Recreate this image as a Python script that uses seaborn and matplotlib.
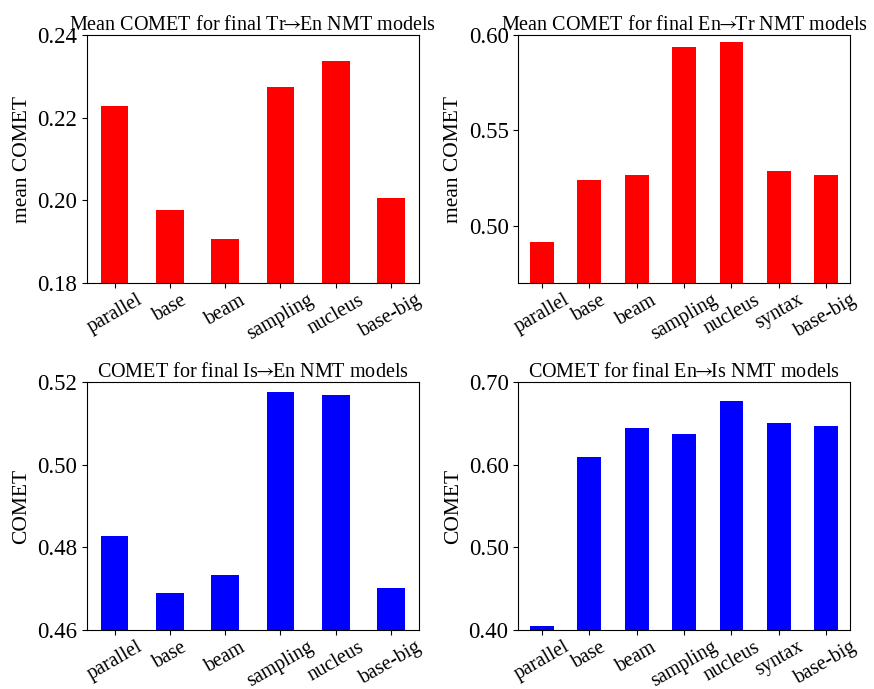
import pandas as pd
import seaborn as sns
import matplotlib
matplotlib.use("Agg")
import matplotlib.pyplot as plt
from matplotlib.ticker import FormatStrFormatter, MultipleLocator

models6 = ["parallel", "base", "beam", "sampling", "nucleus", "base-big"]
models7 = ["parallel", "base", "beam", "sampling", "nucleus", "syntax", "base-big"]

tr_en = [0.2228, 0.1977, 0.1907, 0.2274, 0.2337, 0.2006]
en_tr = [0.4914, 0.5240, 0.5266, 0.5937, 0.5963, 0.5287, 0.5266]
is_en = [0.4827, 0.4690, 0.4733, 0.5176, 0.5169, 0.4702]
en_is = [0.4048, 0.6093, 0.6444, 0.6371, 0.6770, 0.6504, 0.6468]

plt.rcParams["font.family"] = ["Liberation Serif", "DejaVu Serif"]
plt.rcParams["mathtext.fontset"] = "stix"

arrow = r"$\!\!\rightarrow\!\!$"

fig, axes = plt.subplots(2, 2, figsize=(8.74, 6.89), dpi=100)
plt.subplots_adjust(left=0.0995, right=0.9725, top=0.949, bottom=0.0856,
                    wspace=0.30, hspace=0.40)

panels = [
    (axes[0, 0], models6, tr_en, "red", "Mean COMET for final Tr" + arrow + "En NMT models",
     "mean COMET", (0.18, 0.24), 0.02),
    (axes[0, 1], models7, en_tr, "red", "Mean COMET for final En" + arrow + "Tr NMT models",
     "mean COMET", (0.47, 0.60), 0.05),
    (axes[1, 0], models6, is_en, "blue", "COMET for final Is" + arrow + "En NMT models",
     "COMET", (0.46, 0.52), 0.02),
    (axes[1, 1], models7, en_is, "blue", "COMET for final En" + arrow + "Is NMT models",
     "COMET", (0.40, 0.70), 0.10),
]

for ax, models, vals, col, title, ylab, ylim, step in panels:
    df = pd.DataFrame({"model": models, "score": vals})
    sns.barplot(data=df, x="model", y="score", color=col, saturation=1,
                width=0.5, ax=ax, linewidth=0)
    ax.set_ylim(*ylim)
    ax.set_xlim(-0.5, len(models) - 0.5)
    ax.yaxis.set_major_locator(MultipleLocator(step))
    ax.yaxis.set_major_formatter(FormatStrFormatter("%.2f"))
    ax.set_title(title, fontsize=14.5, pad=3)
    ax.set_ylabel(ylab, fontsize=15.5)
    ax.set_xlabel("")
    ax.tick_params(axis="y", labelsize=16.5)
    ax.tick_params(axis="x", labelsize=14.5, pad=2)
    plt.setp(ax.get_xticklabels(), rotation=30, ha="center")
    for s in ax.spines.values():
        s.set_visible(True)

fig.savefig("out.png", dpi=100)
